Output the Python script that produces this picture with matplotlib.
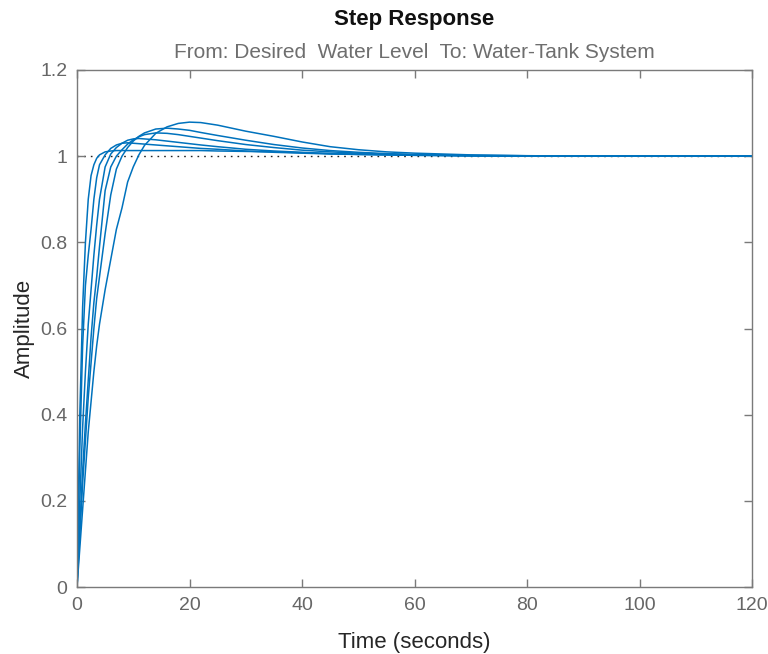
import matplotlib
matplotlib.use("Agg")
import matplotlib.pyplot as plt
from matplotlib.ticker import FuncFormatter

plt.rcParams['font.family'] = ['Liberation Sans', 'DejaVu Sans']

# Time samples (seconds)
t = [0, 0.5, 1, 1.5, 2, 2.5, 3, 3.5, 4, 5, 6, 7, 8, 9, 10, 11, 12, 14, 16, 18,
     20, 22, 25, 30, 35, 40, 45, 50, 55, 60, 70, 80, 100, 120]

# Step responses (amplitude)
resp1 = [0, 0.40, 0.65, 0.80, 0.90, 0.955, 0.98, 0.995, 1.003, 1.010, 1.012, 1.013, 1.013, 1.013,
         1.013, 1.013, 1.013, 1.013, 1.013, 1.013, 1.013, 1.013, 1.012, 1.011, 1.010, 1.008, 1.006,
         1.005, 1.004, 1.003, 1.001, 1.0005, 1.0, 1.0]
resp2 = [0, 0.32, 0.56, 0.70, 0.77, 0.83, 0.90, 0.95, 0.98, 1.003, 1.018, 1.026, 1.030, 1.031,
         1.030, 1.029, 1.028, 1.026, 1.024, 1.022, 1.020, 1.018, 1.016, 1.012, 1.009, 1.007, 1.005,
         1.004, 1.003, 1.002, 1.001, 1.0, 1.0, 1.0]
resp3 = [0, 0.20, 0.37, 0.50, 0.61, 0.69, 0.77, 0.84, 0.90, 0.975, 1.005, 1.020, 1.030, 1.037,
         1.040, 1.041, 1.040, 1.038, 1.035, 1.032, 1.029, 1.026, 1.022, 1.016, 1.012, 1.009, 1.006,
         1.004, 1.003, 1.002, 1.001, 1.0, 1.0, 1.0]
resp4 = [0, 0.14, 0.27, 0.38, 0.48, 0.58, 0.66, 0.72, 0.79, 0.92, 0.975, 1.000, 1.015, 1.028,
         1.038, 1.045, 1.050, 1.054, 1.053, 1.050, 1.046, 1.042, 1.036, 1.027, 1.020, 1.014, 1.010,
         1.007, 1.005, 1.003, 1.001, 1.0005, 1.0, 1.0]
resp5 = [0, 0.12, 0.24, 0.34, 0.44, 0.52, 0.60, 0.67, 0.72, 0.82, 0.91, 0.97, 1.000, 1.020,
         1.035, 1.046, 1.054, 1.063, 1.065, 1.063, 1.060, 1.055, 1.048, 1.037, 1.027, 1.019, 1.013,
         1.009, 1.006, 1.004, 1.002, 1.001, 1.0, 1.0]
resp6 = [0, 0.09, 0.18, 0.27, 0.36, 0.43, 0.50, 0.56, 0.61, 0.69, 0.76, 0.83, 0.88, 0.94,
         0.975, 1.003, 1.025, 1.053, 1.068, 1.076, 1.079, 1.078, 1.072, 1.058, 1.046, 1.033, 1.022,
         1.015, 1.010, 1.007, 1.003, 1.001, 1.0, 1.0]
responses = [resp1, resp2, resp3, resp4, resp5, resp6]

final_value = 1.0
x_ticks = [0, 20, 40, 60, 80, 100, 120]
y_ticks = [0, 0.2, 0.4, 0.6, 0.8, 1.0, 1.2]

title = "Step Response"
subtitle = "From: Desired  Water Level  To: Water-Tank System"
xlabel = "Time (seconds)"
ylabel = "Amplitude"

fig = plt.figure(figsize=(7.68, 6.54), dpi=100)
ax = fig.add_axes([77/768, 67/654, (752-77)/768, (587-70)/654])

line_color = '#0072BD'
for r in responses:
    ax.plot(t, r, color=line_color, lw=1.1)

ax.plot([x_ticks[0], x_ticks[-1]], [final_value, final_value], color='#222222', lw=1.0,
        linestyle=(0, (1.2, 3.6)), zorder=1)

ax.set_xlim(0, 120)
ax.set_ylim(0, 1.2)
ax.set_xticks(x_ticks)
ax.set_yticks(y_ticks)
fmt = FuncFormatter(lambda v, p: ('%g' % round(v, 2)))
ax.xaxis.set_major_formatter(fmt)
ax.yaxis.set_major_formatter(fmt)

spine_color = '#7a7a7a'
for s in ax.spines.values():
    s.set_color(spine_color)
    s.set_linewidth(1.0)
ax.tick_params(direction='in', length=6, width=1.0, color=spine_color,
               top=True, right=True, labelsize=14, labelcolor='#666666', pad=7)

ax.set_xlabel(xlabel, fontsize=16, color='#262626', labelpad=13)
ax.set_ylabel(ylabel, fontsize=16, color='#262626', labelpad=4)

fig.text((77+752)/2/768, 1 - 19/654, title, ha='center', va='center',
         fontsize=16, fontweight='bold', color='#111111')
fig.text((77+752)/2/768, 1 - 53/654, subtitle, ha='center', va='center',
         fontsize=15, color='#6e6e6e')

fig.savefig('out.png', dpi=100)
